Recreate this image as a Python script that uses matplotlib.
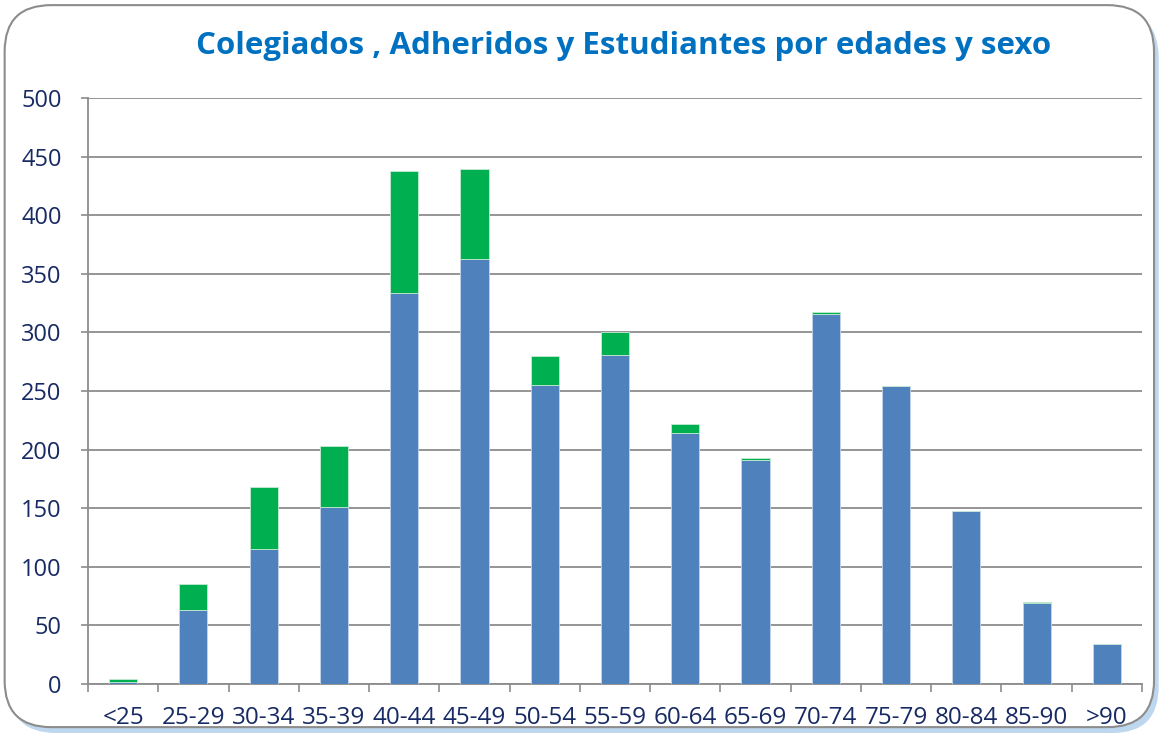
import matplotlib.pyplot as plt
from matplotlib.patches import FancyBboxPatch

# Datos
categorias = ["<25", "25-29", "30-34", "35-39", "40-44", "45-49", "50-54", "55-59",
              "60-64", "65-69", "70-74", "75-79", "80-84", "85-90", ">90"]
colegiados = [2, 63, 115, 151, 334, 363, 255, 281, 214, 191, 316, 254, 148, 69, 34]
estudiantes = [2, 22, 53, 52, 104, 76, 25, 19, 8, 2, 1.5, 0, 0, 1, 0]

azul = "#4F81BD"
verde = "#00B050"
texto = "#172A63"

plt.rcParams['font.family'] = ['Open Sans', 'DejaVu Sans']

fig = plt.figure(figsize=(11.61, 7.33), dpi=100)

# Marco redondeado con sombra
sombra = FancyBboxPatch((0.008, 0.0), 0.99, 0.985, boxstyle="round,pad=0,rounding_size=0.04",
                        transform=fig.transFigure, facecolor="#BDD7EE", edgecolor="none",
                        mutation_aspect=1161 / 733, zorder=-3)
marco = FancyBboxPatch((0.004, 0.008), 0.99, 0.985, boxstyle="round,pad=0,rounding_size=0.04",
                       transform=fig.transFigure, facecolor="white", edgecolor="#8C8C8C",
                       linewidth=1.5, mutation_aspect=1161 / 733, zorder=-2)
fig.patches.extend([sombra, marco])

ax = fig.add_axes([0.0758, 0.0668, 0.9078, 0.7995])
ax.patch.set_alpha(0)

x = range(len(categorias))
ax.bar(x, colegiados, width=0.4, color=azul, edgecolor="#C6D5EA", linewidth=0.6, zorder=3)
ax.bar(x, estudiantes, width=0.4, bottom=colegiados, color=verde, edgecolor="#C6EAD3",
       linewidth=0.6, zorder=3)

ax.set_xlim(-0.5, len(categorias) - 0.5)
ax.set_ylim(0, 500)
ax.set_yticks(range(0, 501, 50))
ax.yaxis.grid(True, color="#8C8C8C", linewidth=1.3, zorder=0)

ax.set_xticks([i - 0.5 for i in range(len(categorias) + 1)])
ax.set_xticklabels([])
ax.set_xticks(list(x), minor=True)
ax.set_xticklabels(categorias, minor=True)
ax.tick_params(axis="x", which="major", direction="out", length=6, width=1.2, color="#8C8C8C")
ax.tick_params(axis="x", which="minor", length=0, pad=16, labelsize=17.5, labelcolor=texto)
ax.tick_params(axis="y", direction="out", length=5, width=1.2, color="#8C8C8C",
               pad=14, labelsize=17, labelcolor=texto)

for s in ["top", "right"]:
    ax.spines[s].set_visible(False)
for s in ["left", "bottom"]:
    ax.spines[s].set_color("#8C8C8C")
    ax.spines[s].set_linewidth(1.3)

fig.text(0.5375, 0.937, "Colegiados , Adheridos y Estudiantes por edades y sexo",
         ha="center", va="center", fontsize=22.5, fontweight="bold", color="#0070C0")

fig.savefig("out.png", dpi=100)
